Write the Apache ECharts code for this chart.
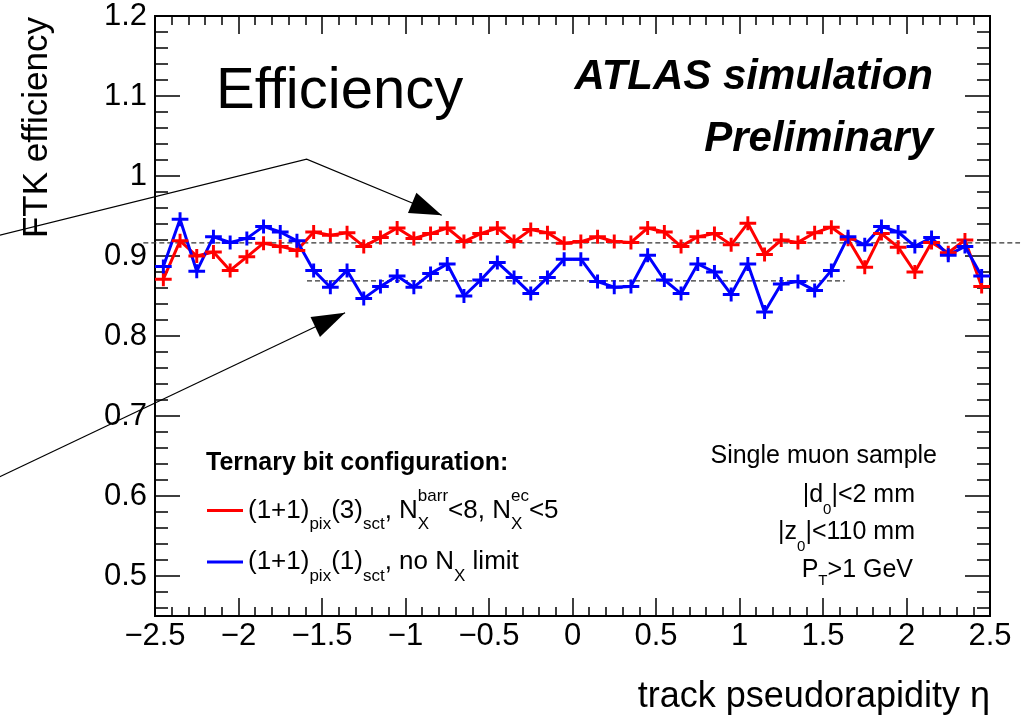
<!DOCTYPE html>
<html><head><meta charset="utf-8">
<script src="https://cdn.jsdelivr.net/npm/echarts@6/dist/echarts.min.js"></script>
<style>html,body{margin:0;padding:0;background:#fff}#c{width:1029px;height:718px}</style>
</head><body><div id="c"></div>
<script>
// ---- data ----
const etaBins = [-2.45,-2.35,-2.25,-2.15,-2.05,-1.95,-1.85,-1.75,-1.65,-1.55,
  -1.45,-1.35,-1.25,-1.15,-1.05,-0.95,-0.85,-0.75,-0.65,-0.55,
  -0.45,-0.35,-0.25,-0.15,-0.05,0.05,0.15,0.25,0.35,0.45,
  0.55,0.65,0.75,0.85,0.95,1.05,1.15,1.25,1.35,1.45,
  1.55,1.65,1.75,1.85,1.95,2.05,2.15,2.25,2.35,2.45];
const effRed = [0.871,0.919,0.900,0.905,0.882,0.899,0.916,0.912,0.907,0.930,
  0.926,0.929,0.912,0.923,0.935,0.922,0.928,0.935,0.918,0.928,
  0.935,0.918,0.933,0.929,0.916,0.918,0.924,0.918,0.917,0.935,
  0.930,0.912,0.924,0.928,0.914,0.941,0.902,0.920,0.917,0.929,
  0.936,0.921,0.886,0.928,0.911,0.880,0.917,0.904,0.920,0.862];
const effBlue = [0.887,0.946,0.881,0.924,0.917,0.922,0.937,0.930,0.919,0.882,
  0.861,0.882,0.847,0.862,0.875,0.861,0.878,0.890,0.850,0.870,
  0.892,0.873,0.853,0.873,0.896,0.896,0.868,0.861,0.862,0.901,
  0.870,0.853,0.890,0.880,0.852,0.890,0.830,0.865,0.868,0.857,
  0.882,0.924,0.914,0.937,0.930,0.912,0.923,0.901,0.912,0.875];
const seriesNames = ['cfgA', 'cfgB'];
const xTickValues = [-2.5,-2,-1.5,-1,-0.5,0,0.5,1,1.5,2,2.5];
const xTickLabels = ['\u22122.5','\u22122','\u22121.5','\u22121','\u22120.5','0','0.5','1','1.5','2','2.5'];
const yTickValues = [0.5,0.6,0.7,0.8,0.9,1.0,1.1,1.2];
const yTickLabels = ['0.5','0.6','0.7','0.8','0.9','1','1.1','1.2'];
// reference lines and arrows (data coordinates)
const upperRef = [[-2.57,0.9165],[2.68,0.9165]];
const lowerRef = [[-1.59,0.869],[1.63,0.869]];
const arrowA = [[-3.43,0.926],[-1.592,1.021],[-0.783,0.951]];
const arrowB = [[-3.43,0.624],[-1.362,0.829]];

// ---- chart ----
const FONT = "'Liberation Sans', Arial, Helvetica, sans-serif";
const yMin = 0.45, yMax = 1.2;
const yMinorTicks = [];
for (let k = 23; k <= 60; k++) yMinorTicks.push(Math.round(k*2)/100);

const plusPath = 'path://M7,0H10V5.5H17V8.5H10V14H7V8.5H0V5.5H7Z';
const black = '#000';

function xAxisCfg(pos, showLabel) {
  return {
    type: 'value', position: pos, min: -2.5, max: 2.5, interval: 0.5,
    axisLine: {show: true, onZero: false, lineStyle: {color: black, width: 2}},
    axisTick: {show: true, inside: true, length: 18, lineStyle: {color: black, width: 1.5}},
    minorTick: {show: true, splitNumber: 5, length: 9, lineStyle: {color: black, width: 1.5}},
    splitLine: {show: false}, minorSplitLine: {show: false},
    axisLabel: {show: showLabel, fontSize: 31, color: black, fontFamily: FONT, margin: 5,
      formatter: v => { const i = xTickValues.findIndex(t => Math.abs(t - v) < 1e-9); return i >= 0 ? xTickLabels[i] : ''; }}
  };
}
function yAxisCfg(pos, ticks, len, showLabel) {
  return {
    type: 'value', position: pos, min: yMin, max: yMax,
    axisLine: {show: true, onZero: false, lineStyle: {color: black, width: 2}},
    axisTick: {show: true, inside: true, length: len, customValues: ticks, lineStyle: {color: black, width: 1.5}},
    splitLine: {show: false},
    axisLabel: {show: showLabel, customValues: yTickValues, fontSize: 31, color: black, fontFamily: FONT, margin: 8,
      formatter: v => { const i = yTickValues.findIndex(t => Math.abs(t - v) < 1e-9); return i >= 0 ? yTickLabels[i] : ''; }}
  };
}

const richLegend = {
  m: {fontSize: 26, fontFamily: FONT, color: black, lineHeight: 45, verticalAlign: 'middle'},
  sub: {fontSize: 17, fontFamily: FONT, color: black, verticalAlign: 'bottom'},
  sup: {fontSize: 17, fontFamily: FONT, color: black, verticalAlign: 'top'},
  sx: {fontSize: 17, fontFamily: FONT, color: black, verticalAlign: 'bottom', width: 0}
};
const legendText = {
  cfgA: '{m|(1+1)}{sub|pix}{m|(3)}{sub|sct}{m|, N}{sx|X}{sup|barr}{m|<8, N}{sx|X}{sup|ec}{m|<5}',
  cfgB: '{m|(1+1)}{sub|pix}{m|(1)}{sub|sct}{m|, no N}{sub|X}{m| limit}'
};

function lineSeries(name, vals, color) {
  return {
    name: name, type: 'line', xAxisIndex: 0, yAxisIndex: 0,
    data: etaBins.map((x, i) => [x, vals[i]]),
    color: color,
    lineStyle: {color: color, width: 3},
    itemStyle: {color: color},
    symbol: plusPath, symbolSize: [16.7, 14], showSymbol: true,
    emphasis: {disabled: true}, silent: true, clip: false, z: 3
  };
}

const chart = echarts.init(document.getElementById('c'), null, {renderer: 'canvas'});
chart.setOption({
  animation: false,
  backgroundColor: '#fff',
  grid: {left: 155, right: 39, top: 16, bottom: 102, containLabel: false},
  xAxis: [xAxisCfg('bottom', true), xAxisCfg('top', false)],
  yAxis: [
    yAxisCfg('left', yTickValues, 25, true),
    yAxisCfg('left', yMinorTicks, 13, false),
    yAxisCfg('right', yTickValues, 25, false),
    yAxisCfg('right', yMinorTicks, 13, false)
  ],
  legend: {
    data: seriesNames, orient: 'vertical', left: 207, top: 488, padding: 0,
    icon: 'rect', itemWidth: 36, itemHeight: 3, itemGap: 16,
    selectedMode: false,
    formatter: n => legendText[n],
    textStyle: {fontSize: 26, fontFamily: FONT, color: black, rich: richLegend}
  },
  series: [lineSeries(seriesNames[0], effRed, '#ff0000'), lineSeries(seriesNames[1], effBlue, '#0000ff')]
});

function px(p) { return chart.convertToPixel({xAxisIndex: 0, yAxisIndex: 0}, p); }
function arrowHead(tail, tip, len, hw) {
  const dx = tip[0] - tail[0], dy = tip[1] - tail[1];
  const d = Math.hypot(dx, dy), ux = dx / d, uy = dy / d;
  const bx = tip[0] - ux * len, by = tip[1] - uy * len;
  return [tip, [bx - uy * hw, by + ux * hw], [bx + uy * hw, by - ux * hw]];
}
const aPts = arrowA.map(px), bPts = arrowB.map(px);
const u0 = upperRef.map(px), l0 = lowerRef.map(px);
const dashStyle = {stroke: '#333', lineWidth: 1.3, lineDash: [5, 3]};
const subRich = {s: {fontSize: 15, fontFamily: FONT, fill: black, verticalAlign: 'bottom'}};

chart.setOption({
  graphic: [
    {type: 'line', z: 1, shape: {x1: u0[0][0], y1: u0[0][1], x2: u0[1][0], y2: u0[1][1]}, style: dashStyle, silent: true},
    {type: 'line', z: 1, shape: {x1: l0[0][0], y1: l0[0][1], x2: l0[1][0], y2: l0[1][1]}, style: dashStyle, silent: true},
    {type: 'polyline', z: 10, shape: {points: aPts}, style: {stroke: black, lineWidth: 1.2, fill: null}, silent: true},
    {type: 'polygon', z: 10, shape: {points: arrowHead(aPts[1], aPts[2], 32, 11)}, style: {fill: black}, silent: true},
    {type: 'polyline', z: 10, shape: {points: bPts}, style: {stroke: black, lineWidth: 1.2, fill: null}, silent: true},
    {type: 'polygon', z: 10, shape: {points: arrowHead(bPts[0], bPts[1], 33, 11)}, style: {fill: black}, silent: true},
    {type: 'text', z: 10, x: 216, y: 92, style: {text: 'Efficiency', fill: black, fontSize: 58, fontFamily: FONT, align: 'left', verticalAlign: 'middle'}},
    {type: 'text', z: 10, x: 933, y: 77, style: {text: 'ATLAS simulation', fill: black, fontSize: 42, fontWeight: 'bold', fontStyle: 'italic', fontFamily: FONT, align: 'right', verticalAlign: 'middle'}},
    {type: 'text', z: 10, x: 933, y: 139, style: {text: 'Preliminary', fill: black, fontSize: 42, fontWeight: 'bold', fontStyle: 'italic', fontFamily: FONT, align: 'right', verticalAlign: 'middle'}},
    {type: 'text', z: 10, x: 206, y: 463, style: {text: 'Ternary bit configuration:', fill: black, fontSize: 25, fontWeight: 'bold', fontFamily: FONT, align: 'left', verticalAlign: 'middle'}},
    {type: 'text', z: 10, x: 937, y: 456, style: {text: 'Single muon sample', fill: black, fontSize: 25, fontFamily: FONT, align: 'right', verticalAlign: 'middle'}},
    {type: 'text', z: 10, x: 915, y: 495, style: {text: '|d{s|0}|<2 mm', fill: black, fontSize: 25, lineHeight: 44, fontFamily: FONT, align: 'right', verticalAlign: 'middle', rich: subRich}},
    {type: 'text', z: 10, x: 915, y: 532, style: {text: '|z{s|0}|<110 mm', fill: black, fontSize: 25, lineHeight: 44, fontFamily: FONT, align: 'right', verticalAlign: 'middle', rich: subRich}},
    {type: 'text', z: 10, x: 913, y: 570, style: {text: 'P{s|T}>1 GeV', fill: black, fontSize: 25, lineHeight: 36, fontFamily: FONT, align: 'right', verticalAlign: 'middle', rich: subRich}},
    {type: 'text', z: 10, x: 990, y: 697, style: {text: 'track pseudorapidity \u03b7', fill: black, fontSize: 36, fontFamily: FONT, align: 'right', verticalAlign: 'middle'}},
    {type: 'text', z: 10, x: 37, y: 17, rotation: Math.PI / 2, style: {text: 'FTK efficiency', fill: black, fontSize: 35, fontFamily: FONT, align: 'right', verticalAlign: 'middle'}}
  ]
});
</script></body></html>
